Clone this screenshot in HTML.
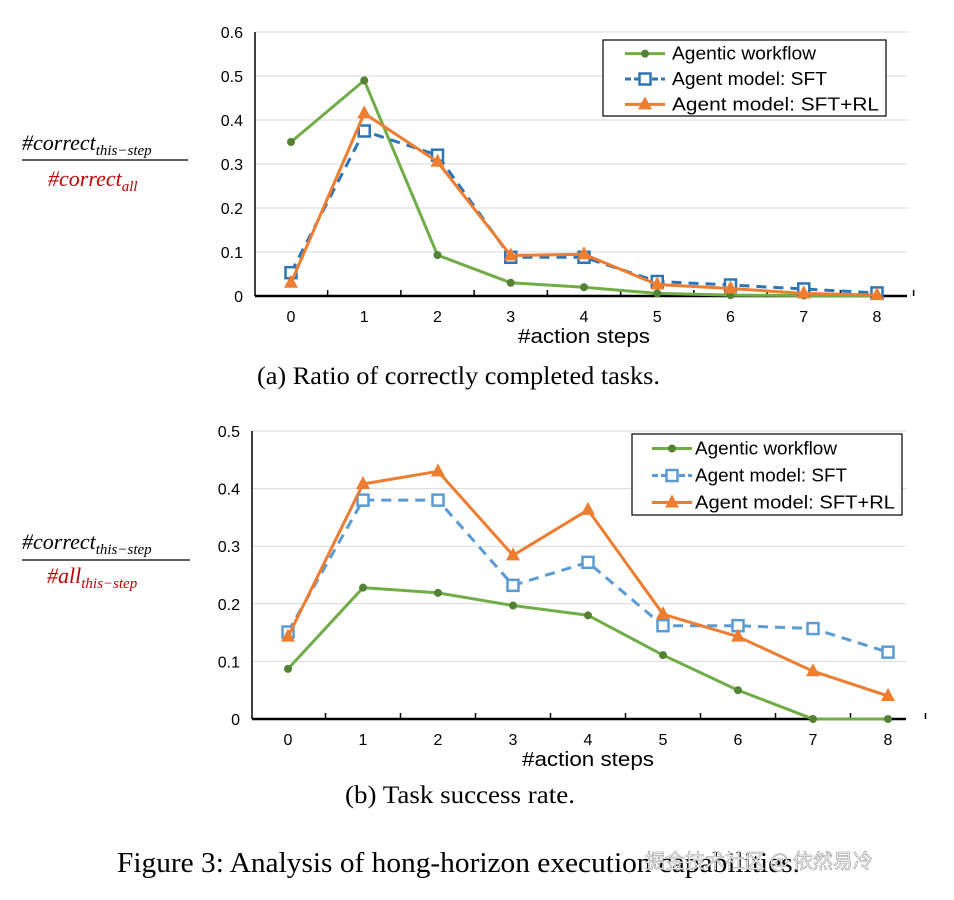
<!DOCTYPE html>
<html><head><meta charset="utf-8"><style>
body{margin:0;background:#fff;width:954px;height:900px;overflow:hidden}
svg{display:block}
.t{font-family:"Liberation Sans",sans-serif;fill:#000}
.s{font-family:"Liberation Serif","Noto Serif CJK SC",serif;fill:#000}
.m{font-family:"Liberation Serif",serif;font-style:italic}
</style></head><body>
<svg id="g" width="954" height="900" xmlns="http://www.w3.org/2000/svg">
<g class="m" style="font-size:22px">
<text x="22" y="150">#correct<tspan style="font-size:15px" dy="5">this−step</tspan></text>
<line x1="22" y1="160" x2="188" y2="160" stroke="#000" stroke-width="1.2"/>
<text x="48" y="186" fill="#c00000">#correct<tspan style="font-size:15px" dy="5">all</tspan></text>
<text x="22" y="549">#correct<tspan style="font-size:15px" dy="5">this−step</tspan></text>
<line x1="22" y1="560" x2="190" y2="560" stroke="#000" stroke-width="1.2"/>
<text x="47" y="583" fill="#c00000">#all<tspan style="font-size:15px" dy="5">this−step</tspan></text>
</g>
<text class="s" style="font-size:25px" x="257" y="384" textLength="403" lengthAdjust="spacingAndGlyphs">(a)  Ratio of correctly completed tasks.</text>
<text class="s" style="font-size:25px" x="345" y="803" textLength="230" lengthAdjust="spacingAndGlyphs">(b)  Task success rate.</text>
<text class="s" style="font-size:28px" x="117" y="872" textLength="683" lengthAdjust="spacingAndGlyphs">Figure 3:  Analysis of hong-horizon execution capabilities.</text>
<text x="645" y="868" font-family="Noto Sans CJK SC,sans-serif" font-size="20" fill="#fff" stroke="#999" stroke-width="0.6">掘金技术社区 @ 依然易冷</text>
</svg>
<script>
const svg=document.getElementById('g');let h='';
function chart(c){
 const {x0,y0,step,unit,ymax,right,data,leg}=c;
 const X=i=>x0+i*step, Y=v=>y0-v*unit*10;
 for(let k=1;k<=ymax*10+1e-9;k++){const y=Y(k/10);h+=`<line x1="${c.ax}" y1="${y}" x2="${right}" y2="${y}" stroke="#d9d9d9" stroke-width="1"/>`;}
 for(let k=0;k<=ymax*10+1e-9;k++){h+=`<text class="t" style="font-size:16px" x="${c.ax-12}" y="${Y(k/10)+6}" text-anchor="end">${k==0?'0':(k/10).toFixed(1)}</text>`;}
 h+=`<line x1="${c.ax}" y1="${Y(ymax)}" x2="${c.ax}" y2="${y0}" stroke="#000" stroke-width="1.5"/>`;
 h+=`<line x1="${c.ax}" y1="${y0}" x2="${right}" y2="${y0}" stroke="#000" stroke-width="2.5"/>`;
 for(let i=1;i<=9;i++){const x=x0-step/2+i*step;h+=`<line x1="${x}" y1="${y0}" x2="${x}" y2="${y0-6}" stroke="#000" stroke-width="1.5"/>`;}
 for(let i=0;i<9;i++)h+=`<text class="t" style="font-size:16px" x="${X(i)}" y="${y0+26}" text-anchor="middle">${i}</text>`;
 h+=`<text class="t" style="font-size:20px" x="${X(4)}" y="${y0+47}" text-anchor="middle" textLength="132" lengthAdjust="spacingAndGlyphs">#action steps</text>`;
 const mk=(t,x,y)=>t=='o'?`<circle cx="${x}" cy="${y}" r="4" fill="#548235"/>`:t=='s'?`<rect x="${x-5.5}" y="${y-5.5}" width="11" height="11" fill="#fff" stroke="${c.bc}" stroke-width="2.5"/>`:`<polygon points="${x},${y-8} ${x-7},${y+5} ${x+7},${y+5}" fill="#ed7d31"/>`;
 const ser=[['s',c.bc,'10,7'],['o','#70ad47',''],['t','#ed7d31','']];
 for(const j of [1,0,2]){const [t,col,da]=ser[j];const d=data[j];
  h+=`<polyline fill="none" stroke="${col}" stroke-width="3" ${da?`stroke-dasharray="${da}"`:''} points="${d.map((v,i)=>X(i)+','+Y(v)).join(' ')}"/>`;
  d.forEach((v,i)=>h+=mk(t,X(i),Y(v)));}
 const [lx,ly,lw,lh]=leg;
 h+=`<rect x="${lx}" y="${ly}" width="${lw}" height="${lh}" fill="#fff" stroke="#000" stroke-width="1.2"/>`;
 const names=['Agentic workflow','Agent model: SFT','Agent model: SFT+RL'];
 const ls=[ser[1],ser[0],ser[2]];
 names.forEach((nm,k)=>{const y=ly+lh*(k+0.5)/3+1;const [t,col,da]=ls[k];
  h+=`<line x1="${lx+c.l0}" y1="${y}" x2="${lx+c.l0+40}" y2="${y}" stroke="${col}" stroke-width="3" ${da?'stroke-dasharray="6,3"':''}/>`+mk(t,lx+c.l0+20,y)+`<text class="t" style="font-size:18px" x="${lx+c.tx}" y="${y+6}" textLength="${c.lens[k]}" lengthAdjust="spacingAndGlyphs">${nm}</text>`;});
}
chart({ax:255,x0:291,y0:296,step:73.25,unit:44,ymax:0.6,right:907,bc:'#2e75b6',l0:22,tx:69,lens:[144,155,207],
 data:[[0.053,0.375,0.32,0.088,0.088,0.033,0.025,0.016,0.007],[0.35,0.49,0.093,0.03,0.02,0.006,0.002,0.001,0],[0.03,0.415,0.305,0.092,0.095,0.026,0.017,0.006,0.002]],
 leg:[603,40,283,76]});
chart({ax:252,x0:288,y0:719,step:75,unit:57.6,ymax:0.5,right:906,bc:'#5b9bd5',l0:20,tx:63,lens:[142,152,200],
 data:[[0.151,0.38,0.38,0.232,0.272,0.162,0.162,0.157,0.116],[0.087,0.228,0.219,0.197,0.18,0.111,0.05,0,0],[0.143,0.408,0.43,0.284,0.363,0.182,0.143,0.083,0.04]],
 leg:[632,434,270,81]});
svg.insertAdjacentHTML('afterbegin',h);
</script>
</body></html>
